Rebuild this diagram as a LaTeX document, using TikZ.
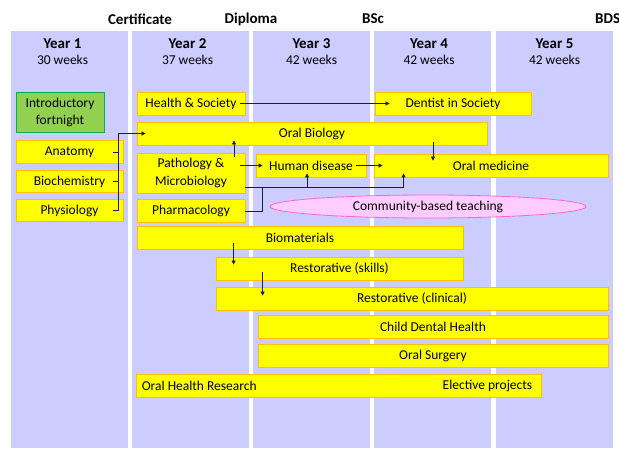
\documentclass[tikz,border=0pt]{standalone}
\usepackage{fontspec}
\setmainfont{Carlito}
\usetikzlibrary{calc,arrows.meta,shapes.geometric}
\definecolor{colbg}{RGB}{204,204,255}
\definecolor{yfill}{RGB}{255,255,0}
\definecolor{ydraw}{RGB}{255,192,0}
\definecolor{gfill}{RGB}{146,208,80}
\definecolor{gdraw}{RGB}{0,176,80}
\definecolor{pfill}{RGB}{255,204,255}
\definecolor{pdraw}{RGB}{255,102,204}
\definecolor{lncol}{RGB}{30,30,45}
\tikzset{
  colbox/.style={fill=colbg,draw=none},
  ybox/.style={rectangle,fill=yfill,draw=ydraw,line width=0.8pt,inner sep=0pt,font=\fontsize{13.5}{17.4}\selectfont,align=center},
  gbox/.style={rectangle,fill=gfill,draw=gdraw,line width=0.8pt,inner sep=0pt,font=\fontsize{13.5}{17}\selectfont,align=center},
  pell/.style={ellipse,fill=pfill,draw=pdraw,line width=0.8pt,inner sep=0pt,font=\fontsize{13.5}{15}\selectfont},
  hdr/.style={font=\bfseries\fontsize{15}{17}\selectfont,inner sep=0pt},
  yr/.style={font=\bfseries\fontsize{15}{17}\selectfont,inner sep=0pt},
  wk/.style={font=\fontsize{13.5}{15}\selectfont,inner sep=0pt},
  txt/.style={font=\fontsize{13.5}{15}\selectfont,inner sep=0pt},
  conn/.style={draw=lncol,line width=0.75pt},
  arr/.style={conn,-{Triangle[length=4pt,width=4pt]}},
}
\begin{document}
\begin{tikzpicture}[x=1pt,y=-1pt]
\useasboundingbox (0,0) rectangle (619,448);
% columns
\fill[colbg] (11,31) rectangle (128,448);
\fill[colbg] (132,31) rectangle (249,448);
\fill[colbg] (253,31) rectangle (370,448);
\fill[colbg] (374,31) rectangle (491,448);
\fill[colbg] (496,31) rectangle (613,448);
% headers
\node[hdr] (hcert) at (140,19) {Certificate};
\node[hdr] (hdip) at (251,19) {Diploma};
\node[hdr] (hbsc) at (373,19) {BSc};
\node[hdr,anchor=west] (hbds) at (595,19) {BDS};
% years
\node[yr] (y1) at (62.5,44) {Year 1};
\node[wk] (w1) at (62.5,60) {30 weeks};
\node[yr] (y2) at (187.5,44) {Year 2};
\node[wk] (w2) at (187.5,60) {37 weeks};
\node[yr] (y3) at (311.5,44) {Year 3};
\node[wk] (w3) at (311.5,60) {42 weeks};
\node[yr] (y4) at (429,44) {Year 4};
\node[wk] (w4) at (429,60) {42 weeks};
\node[yr] (y5) at (554.5,44) {Year 5};
\node[wk] (w5) at (554.5,60) {42 weeks};
% boxes
\node[gbox,minimum width=88pt,minimum height=40pt] (intro) at (60,112) {Introductory\\fortnight};
\node[ybox,minimum width=108pt,minimum height=23pt] (hs) at (191,103.5) {Health \& Society};
\node[ybox,minimum width=156pt,minimum height=23pt] (dis) at (453,103.5) {Dentist in Society};
\node[ybox,minimum width=350pt,minimum height=23pt] (ob) at (312,133.5) {Oral Biology};
\node[ybox,minimum width=107pt,minimum height=22.5pt] (anat) at (69.5,152) {Anatomy};
\node[ybox,minimum width=107pt,minimum height=22.5pt] (bio) at (69.5,181.5) {Biochemistry};
\node[ybox,minimum width=107pt,minimum height=22.5pt] (phys) at (69.5,210.5) {Physiology};
\node[ybox,minimum width=108pt,minimum height=40pt] (path) at (191,173) {Pathology \&\\Microbiology};
\node[ybox,minimum width=108pt,minimum height=23pt] (pharm) at (191,210.5) {Pharmacology};
\node[ybox,minimum width=110pt,minimum height=23pt] (hd) at (311,165.5) {Human disease};
\node[ybox,minimum width=234pt,minimum height=23pt] (om) at (491,165.5) {Oral medicine};
\node[pell,minimum width=316pt,minimum height=23pt] (cbt) at (428,206.5) {Community-based teaching};
\node[ybox,minimum width=326pt,minimum height=22.5pt] (biom) at (300,238) {Biomaterials};
\node[ybox,minimum width=247pt,minimum height=23pt] (rs) at (339.5,268.5) {Restorative (skills)};
\node[ybox,minimum width=392pt,minimum height=23pt] (rc) at (412,298.5) {Restorative (clinical)};
\node[ybox,minimum width=350pt,minimum height=22.5pt] (cdh) at (433,327) {Child Dental Health};
\node[ybox,minimum width=350pt,minimum height=22.5pt] (os) at (433,356) {Oral Surgery};
\node[ybox,minimum width=405pt,minimum height=23pt] (ohr) at (338.5,385.5) {};
\node[txt,anchor=west] (ohrt) at ($(ohr.west)+(6,0)$) {Oral Health Research};
\node[txt,anchor=east] (elec) at ($(ohr.east)+(-9,0)$) {Elective projects};
% connectors
\draw[arr] ($(hs.east)+(-5,0)$) -- ($(dis.west)+(15,0)$);
\draw[conn] ($(anat.east)+(-10,0)$) -- ($(anat.east)+(-5,0)$);
\draw[conn] ($(bio.east)+(-10,0)$) -- ($(bio.east)+(-5,0)$);
\draw[arr] ($(phys.east)+(-10,0)$) -- ($(phys.east)+(-5,0)$) |- ($(ob.west)+(9,0)$);
\draw[arr] ($(path.north)+(43,4)$) -- ($(ob.south)+(-78,-5)$);
\draw[arr] ($(path.east)+(-5,-7.5)$) -- ($(hd.west)+(7,0)$);
\draw[arr] ($(hd.east)+(-10,0)$) -- ($(om.west)+(9,0)$);
\draw[arr] ($(ob.south)+(121,-3)$) -- ($(om.north)+(-58,7)$);
\draw[arr] ($(path.south east)+(0,-6)$) -| ($(om.south west)+(30,-4)$);
\draw[arr] ($(hd.south)+(-4,10)$) -- ($(hd.south)+(-4,-4)$);
\draw[conn] ($(pharm.east)+(0,0.5)$) -| ($(hd.south west)+(7,10)$);
\draw[arr] ($(biom.south west)+(97,-7)$) -- ($(rs.north west)+(18,8)$);
\draw[arr] ($(rs.south west)+(47,-8)$) -- ($(rc.north west)+(47,9)$);
\end{tikzpicture}
\end{document}
